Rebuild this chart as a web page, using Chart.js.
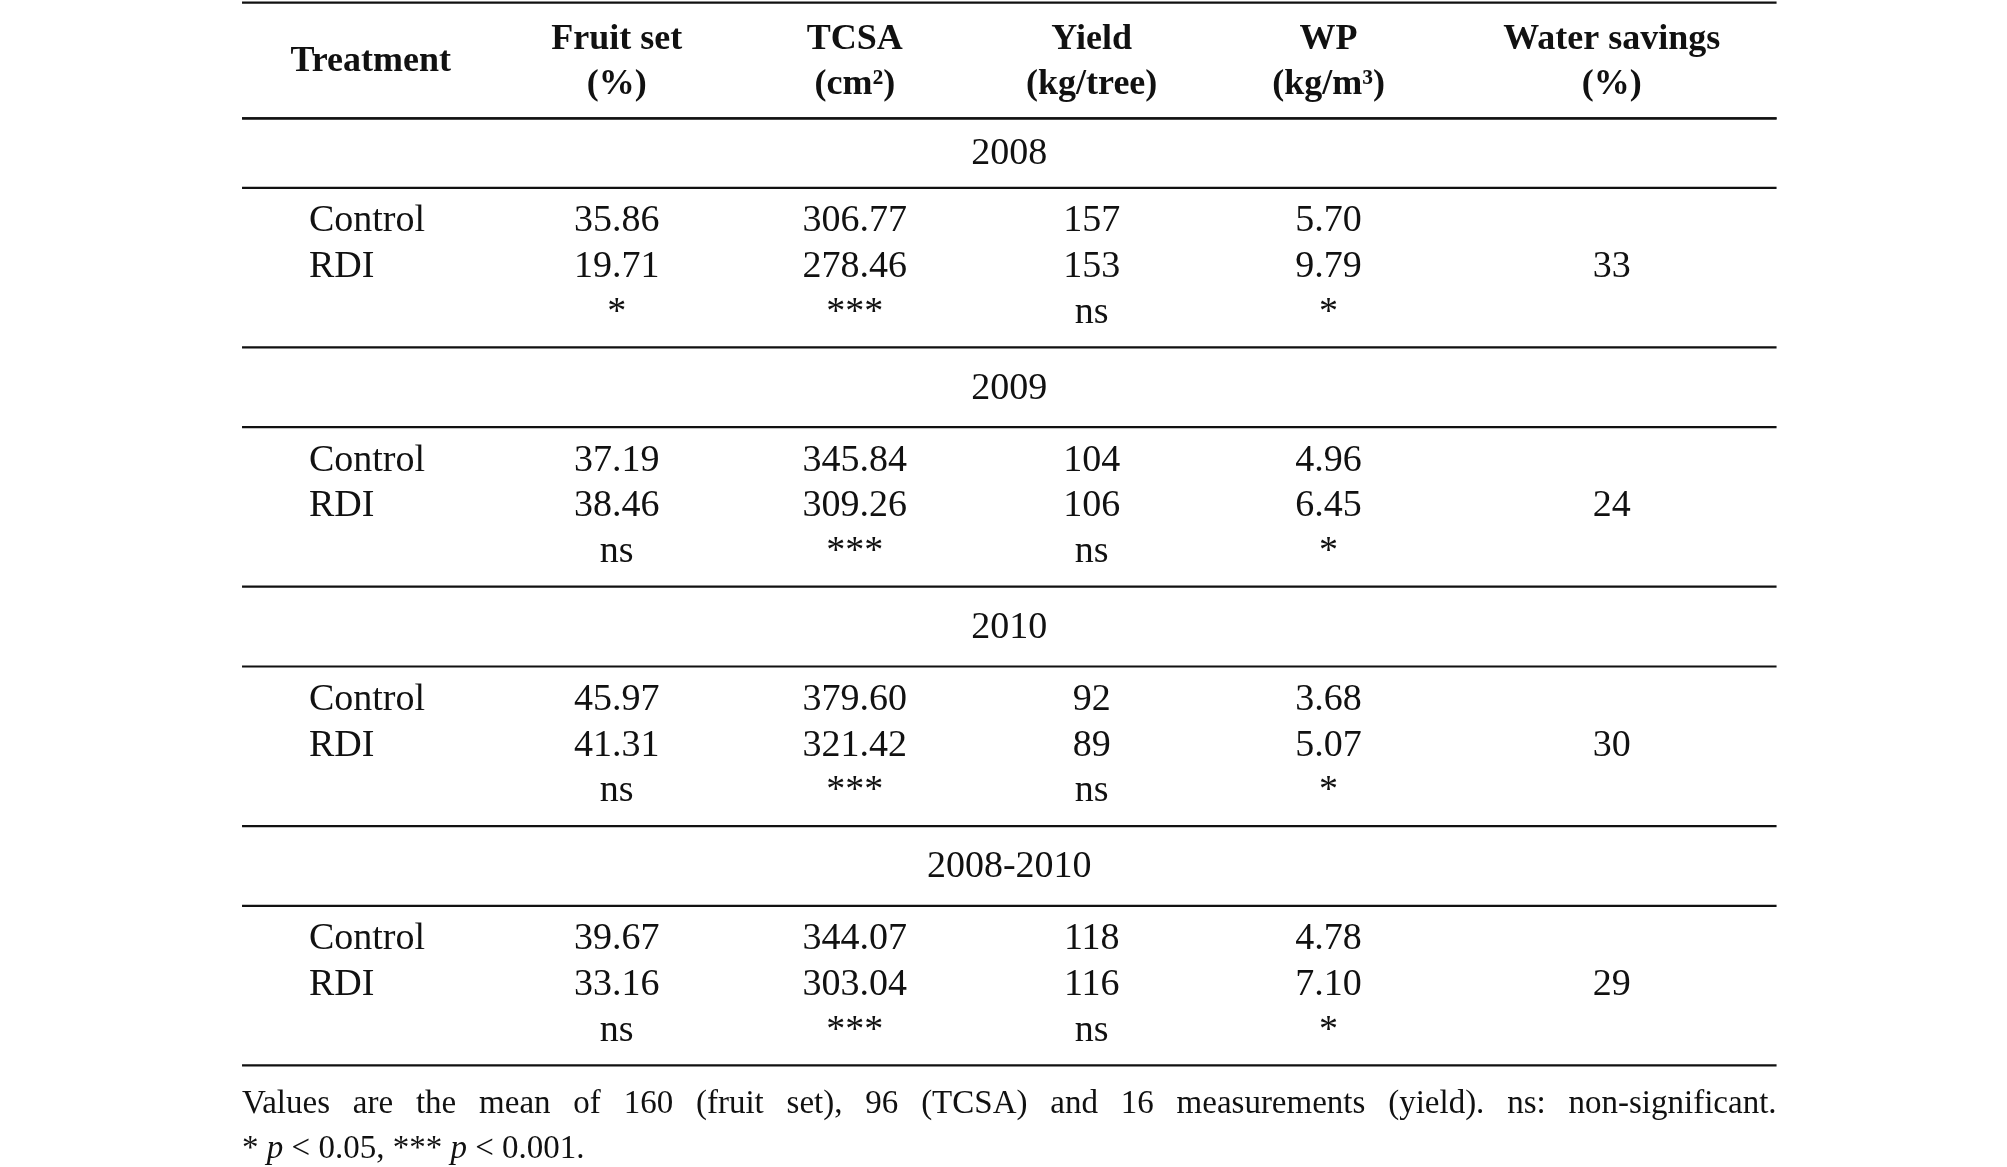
<!DOCTYPE html>
<html><head><meta charset="utf-8">
<script src="https://cdn.jsdelivr.net/npm/chart.js@4"></script>
<style>html,body{margin:0;padding:0;background:#fff}canvas{display:block}</style>
</head><body>
<canvas id="c" width="2007" height="1167"></canvas>
<script>
// ---- data ----
const headers = [["Treatment"],["Fruit set","(%)"],["TCSA","(cm²)"],["Yield","(kg/tree)"],["WP","(kg/m³)"],["Water savings","(%)"]];
const years = ["2008","2009","2010","2008-2010"];
const treatments = ["Control","RDI"];
const fruitSet = [["35.86","19.71","*"],["37.19","38.46","ns"],["45.97","41.31","ns"],["39.67","33.16","ns"]];
const tcsa = [["306.77","278.46","***"],["345.84","309.26","***"],["379.60","321.42","***"],["344.07","303.04","***"]];
const yieldKg = [["157","153","ns"],["104","106","ns"],["92","89","ns"],["118","116","ns"]];
const wp = [["5.70","9.79","*"],["4.96","6.45","*"],["3.68","5.07","*"],["4.78","7.10","*"]];
const waterSavings = ["33","24","30","29"];
const footnote1 = "Values are the mean of 160 (fruit set), 96 (TCSA) and 16 measurements (yield). ns: non-significant.";

// ---- layout (reference units) ----
const colX = [288,479,664,848,1032,1252];
const labelX = 240;
const tableL = 188, tableR = 1380;
const blockTop = [92,270,456,642]; // line above each year label
const F = "Liberation Serif";

const cells = []; // {x,y,text,bold,align}
headers.forEach((h,i)=>{
  if(h.length===1) cells.push({x:colX[i],y:48,t:h[0],b:true});
  else { cells.push({x:colX[i],y:31,t:h[0],b:true}); cells.push({x:colX[i],y:66,t:h[1],b:true}); }
});
const hlines=[2,92,828];
const cols=[fruitSet,tcsa,yieldKg,wp];
years.forEach((yr,k)=>{
  const top=blockTop[k];
  const sep=top+(k===0?54:62);
  hlines.push(top,sep);
  cells.push({x:(tableL+tableR)/2,y:(top+sep)/2+1,t:yr});
  const r0=sep+26, dr=35.5;
  treatments.forEach((t,j)=>cells.push({x:labelX,y:r0+j*dr,t:t,a:'left'}));
  cols.forEach((col,c)=>col[k].forEach((v,j)=>cells.push({x:colX[c+1],y:r0+j*dr+(j==2?0:0),t:v})));
  cells.push({x:colX[5],y:r0+dr,t:waterSavings[k]});
});

const tablePlugin={id:'tbl',afterDatasetsDraw(ch){
  const ctx=ch.ctx, xs=ch.scales.x, ys=ch.scales.y;
  const meta=ch.getDatasetMeta(0);
  ctx.save();
  ctx.fillStyle='#111'; ctx.textBaseline='middle';
  meta.data.forEach((pt,i)=>{
    const c=cells[i];
    ctx.font=(c.b?'bold 36px ':'38px ')+F;
    ctx.textAlign=c.a||'center';
    ctx.fillText(c.t,pt.x,pt.y);
  });
  ctx.strokeStyle='#111'; ctx.lineWidth=2.2;
  hlines.forEach(y=>{const py=ys.getPixelForValue(y);ctx.beginPath();ctx.moveTo(xs.getPixelForValue(tableL),py);ctx.lineTo(xs.getPixelForValue(tableR),py);ctx.stroke();});
  // footnote
  ctx.textAlign='left';
  const fx=xs.getPixelForValue(tableL), fr=xs.getPixelForValue(tableR);
  ctx.font='33px '+F;
  const words=footnote1.split(' ');
  const ww=words.map(w=>ctx.measureText(w).width);
  const gap=(fr-fx-ww.reduce((a,b)=>a+b,0))/(words.length-1);
  let x=fx; const y1=ys.getPixelForValue(858);
  words.forEach((w,i)=>{ctx.fillText(w,x,y1);x+=ww[i]+gap;});
  const segs=[["* ",0],["p",1],[" < 0.05, *** ",0],["p",1],[" < 0.001.",0]];
  x=fx; const y2=ys.getPixelForValue(893);
  segs.forEach(([s,it])=>{ctx.font=(it?'italic ':'')+'33px '+F;ctx.fillText(s,x,y2);x+=ctx.measureText(s).width;});
  ctx.restore();
}};

new Chart(document.getElementById('c'),{
  type:'scatter',
  data:{datasets:[{data:cells.map(c=>({x:c.x,y:c.y})),pointRadius:0,showLine:false}]},
  options:{responsive:false,animation:false,devicePixelRatio:1,
    layout:{padding:0},
    plugins:{legend:{display:false},tooltip:{enabled:false}},
    scales:{x:{type:'linear',min:0,max:1559,display:false},y:{type:'linear',min:0,max:907,reverse:true,display:false}}},
  plugins:[tablePlugin]
});
</script>
</body></html>
